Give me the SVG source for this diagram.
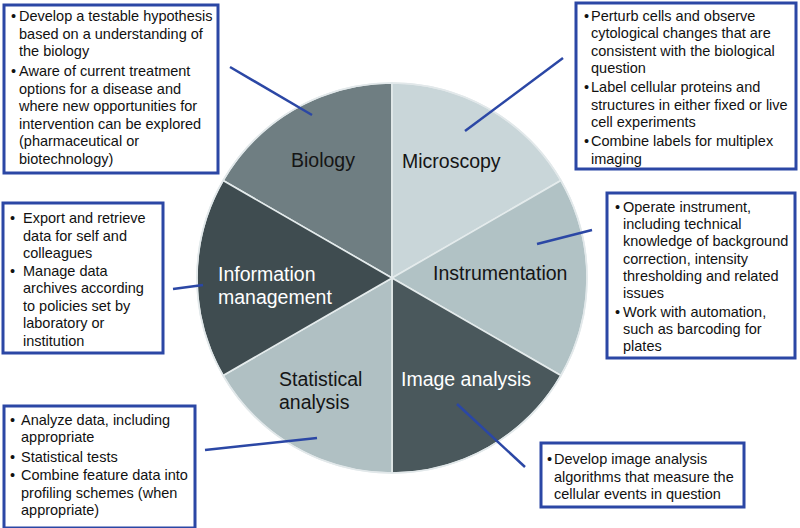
<svg xmlns="http://www.w3.org/2000/svg" width="800" height="528" viewBox="0 0 800 528">
<style>
  .sector { stroke: #e4ebec; stroke-width: 1.6; stroke-linejoin: round; }
  .lbl { font-family: "Liberation Sans", Arial, Helvetica, sans-serif; font-size: 19.5px; fill: #151515; }
  .lbl-w { fill: #ffffff; }
  .box { fill: #ffffff; stroke: #2b47a5; stroke-width: 3; }
  .txt { font-family: "Liberation Sans", Arial, Helvetica, sans-serif; font-size: 14.5px; fill: #111111; }
  .conn { stroke: #2b47a5; stroke-width: 2.5; stroke-linecap: butt; fill: none; }
</style>
<rect x="0" y="0" width="800" height="528" fill="#ffffff"/>

<!-- Pie sectors -->
<g id="biology">
  <path class="sector" fill="#6f7e82" d="M392,278 L223.1,180.5 A195,195 0 0 1 392,83 Z"/>
  <text class="lbl" x="291" y="167">Biology</text>
</g>
<g id="microscopy">
  <path class="sector" fill="#c9d6d9" d="M392,278 L392,83 A195,195 0 0 1 560.9,180.5 Z"/>
  <text class="lbl" x="402" y="168">Microscopy</text>
</g>
<g id="instrumentation">
  <path class="sector" fill="#b1c2c5" d="M392,278 L560.9,180.5 A195,195 0 0 1 560.9,375.5 Z"/>
  <text class="lbl" x="433" y="280">Instrumentation</text>
</g>
<g id="image-analysis">
  <path class="sector" fill="#4a585c" d="M392,278 L560.9,375.5 A195,195 0 0 1 392,473 Z"/>
  <text class="lbl lbl-w" x="401" y="386">Image analysis</text>
</g>
<g id="statistical-analysis">
  <path class="sector" fill="#b0c0c3" d="M392,278 L392,473 A195,195 0 0 1 223.1,375.5 Z"/>
  <text class="lbl" x="279" y="386">Statistical</text>
  <text class="lbl" x="279" y="409">analysis</text>
</g>
<g id="information-management">
  <path class="sector" fill="#3f4c50" d="M392,278 L223.1,375.5 A195,195 0 0 1 223.1,180.5 Z"/>
  <text class="lbl lbl-w" x="218" y="281">Information</text>
  <text class="lbl lbl-w" x="218" y="304">management</text>
</g>
<circle cx="392" cy="278" r="195" fill="none" stroke="#e2e8ea" stroke-width="1.5"/>

<!-- Connectors -->
<g id="connectors">
  <line class="conn" x1="230" y1="67" x2="312" y2="115"/>
  <line class="conn" x1="465" y1="131" x2="563" y2="58"/>
  <line class="conn" x1="537" y1="244" x2="592" y2="230"/>
  <line class="conn" x1="173" y1="289" x2="203" y2="285"/>
  <line class="conn" x1="205" y1="450" x2="317" y2="438"/>
  <line class="conn" x1="457" y1="404" x2="525" y2="467"/>
</g>

<!-- Boxes -->
<g id="box-biology">
  <rect class="box" x="4" y="5" width="214" height="168"/>
  <text class="txt">
    <tspan x="11" y="21">•</tspan><tspan x="19" y="21">Develop a testable hypothesis</tspan>
    <tspan x="19" y="38.5">based on a understanding of</tspan>
    <tspan x="19" y="56">the biology</tspan>
    <tspan x="11" y="76">•</tspan><tspan x="19" y="76">Aware of current treatment</tspan>
    <tspan x="19" y="93.5">options for a disease and</tspan>
    <tspan x="19" y="111">where new opportunities for</tspan>
    <tspan x="19" y="128.5">intervention can be explored</tspan>
    <tspan x="19" y="146">(pharmaceutical or</tspan>
    <tspan x="19" y="163.5">biotechnology)</tspan>
  </text>
</g>
<g id="box-microscopy">
  <rect class="box" x="576" y="3" width="220" height="166"/>
  <text class="txt">
    <tspan x="584" y="20.5">•</tspan><tspan x="591" y="20.5">Perturb cells and observe</tspan>
    <tspan x="591" y="38">cytological changes that are</tspan>
    <tspan x="591" y="55.5">consistent with the biological</tspan>
    <tspan x="591" y="73">question</tspan>
    <tspan x="584" y="92">•</tspan><tspan x="591" y="92">Label cellular proteins and</tspan>
    <tspan x="591" y="109.5">structures in either fixed or live</tspan>
    <tspan x="591" y="127">cell experiments</tspan>
    <tspan x="584" y="146">•</tspan><tspan x="591" y="146">Combine labels for multiplex</tspan>
    <tspan x="591" y="163.5">imaging</tspan>
  </text>
</g>
<g id="box-instrumentation">
  <rect class="box" x="607" y="193" width="188" height="165"/>
  <text class="txt">
    <tspan x="615" y="212">•</tspan><tspan x="623" y="212">Operate instrument,</tspan>
    <tspan x="623" y="229.2">including technical</tspan>
    <tspan x="623" y="246.4">knowledge of background</tspan>
    <tspan x="623" y="263.6">correction, intensity</tspan>
    <tspan x="623" y="280.8">thresholding and related</tspan>
    <tspan x="623" y="298">issues</tspan>
    <tspan x="615" y="317">•</tspan><tspan x="623" y="317">Work with automation,</tspan>
    <tspan x="623" y="334.2">such as barcoding for</tspan>
    <tspan x="623" y="351.4">plates</tspan>
  </text>
</g>
<g id="box-information-management">
  <rect class="box" x="3" y="203" width="160" height="150"/>
  <text class="txt">
    <tspan x="10" y="223">•</tspan><tspan x="23" y="223">Export and retrieve</tspan>
    <tspan x="23" y="240.5">data for self and</tspan>
    <tspan x="23" y="258">colleagues</tspan>
    <tspan x="10" y="275.5">•</tspan><tspan x="23" y="275.5">Manage data</tspan>
    <tspan x="23" y="293">archives according</tspan>
    <tspan x="23" y="310.5">to policies set by</tspan>
    <tspan x="23" y="328">laboratory or</tspan>
    <tspan x="23" y="345.5">institution</tspan>
  </text>
</g>
<g id="box-statistical-analysis">
  <rect class="box" x="4" y="406" width="191" height="122"/>
  <text class="txt">
    <tspan x="10" y="425">•</tspan><tspan x="21" y="425">Analyze data, including</tspan>
    <tspan x="21" y="442">appropriate</tspan>
    <tspan x="10" y="462">•</tspan><tspan x="21" y="462">Statistical tests</tspan>
    <tspan x="10" y="480">•</tspan><tspan x="21" y="480">Combine feature data into</tspan>
    <tspan x="21" y="497.5">profiling schemes (when</tspan>
    <tspan x="21" y="515">appropriate)</tspan>
  </text>
</g>
<g id="box-image-analysis">
  <rect class="box" x="541" y="443" width="203" height="64"/>
  <text class="txt">
    <tspan x="547" y="464">•</tspan><tspan x="554" y="464">Develop image analysis</tspan>
    <tspan x="554" y="481.5">algorithms that measure the</tspan>
    <tspan x="554" y="499">cellular events in question</tspan>
  </text>
</g>
</svg>
